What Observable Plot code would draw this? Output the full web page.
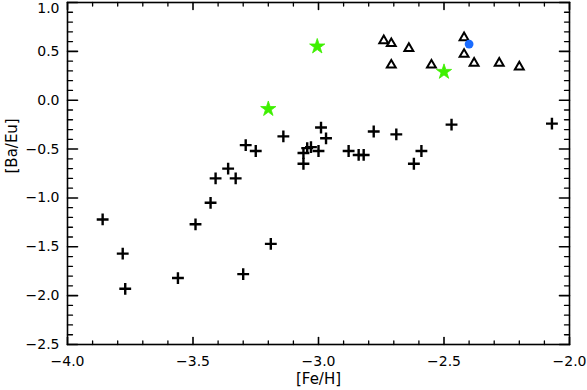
<!DOCTYPE html>
<html>
<head>
<meta charset="utf-8">
<script src="https://cdn.jsdelivr.net/npm/d3@7"></script>
<script src="https://cdn.jsdelivr.net/npm/@observablehq/plot@0.6"></script>
<style>
  body { margin: 0; background: #fff; }
  #chart { position: relative; width: 587px; height: 390px; }
</style>
</head>
<body>
<div id="chart"></div>
<script>
// Crosses (black "+")
const crossFe = [-3.86, -3.78, -3.77, -3.56, -3.49, -3.43, -3.41, -3.36, -3.33, -3.29,
                 -3.25, -3.30, -3.19, -3.14, -3.06, -3.06, -3.045, -3.03, -3.00, -2.99,
                 -2.97, -2.88, -2.84, -2.82, -2.78, -2.69, -2.62, -2.59, -2.47, -2.07];
const crossBaEu = [-1.22, -1.57, -1.93, -1.82, -1.27, -1.05, -0.80, -0.70, -0.80, -0.46,
                   -0.52, -1.78, -1.47, -0.37, -0.54, -0.65, -0.49, -0.48, -0.52, -0.28,
                   -0.39, -0.52, -0.56, -0.56, -0.32, -0.35, -0.65, -0.52, -0.25, -0.24];
// Open triangles
const triFe = [-2.74, -2.71, -2.64, -2.71, -2.55, -2.42, -2.42, -2.38, -2.28, -2.20];
const triBaEu = [0.61, 0.58, 0.53, 0.36, 0.36, 0.64, 0.47, 0.38, 0.38, 0.34];
// Green stars
const starFe = [-3.005, -3.20, -2.50];
const starBaEu = [0.55, -0.09, 0.29];
// Blue dot
const dotFe = [-2.40];
const dotBaEu = [0.575];

// Axis ticks
const xMajor = [-4.0, -3.5, -3.0, -2.5, -2.0];
const xMinor = [-3.9, -3.8, -3.7, -3.6, -3.4, -3.3, -3.2, -3.1, -2.9, -2.8, -2.7, -2.6, -2.4, -2.3, -2.2, -2.1];
const yMajor = [-2.5, -2.0, -1.5, -1.0, -0.5, 0.0, 0.5, 1.0];
const yMinor = [-2.4, -2.3, -2.2, -2.1, -1.9, -1.8, -1.7, -1.6, -1.4, -1.3, -1.2, -1.1,
                -0.9, -0.8, -0.7, -0.6, -0.4, -0.3, -0.2, -0.1, 0.1, 0.2, 0.3, 0.4, 0.6, 0.7, 0.8, 0.9];
const xLabel = "[Fe/H]";
const yLabel = "[Ba/Eu]";

const toPts = (xs, ys) => xs.map((x, i) => ({x, y: ys[i]}));
const crosses = toPts(crossFe, crossBaEu);
const tris = toPts(triFe, triBaEu);
const stars = toPts(starFe, starBaEu);
const dots = toPts(dotFe, dotBaEu);

const fmt = d => (d < 0 ? "\u2212" : "") + Math.abs(d).toFixed(1);
const line = {draw(ctx, l) { ctx.moveTo(0, 0); ctx.lineTo(0, -l); }};

// inward tick helper: vectors anchored at the frame edge
const xTicks = (vals, edge, len, sw) => Plot.vector(vals, {
  x: d => d, frameAnchor: edge, length: len, rotate: edge === "bottom" ? 0 : 180,
  anchor: "start", shape: line, stroke: "black", strokeWidth: sw
});
const yTicks = (vals, edge, len, sw) => Plot.vector(vals, {
  y: d => d, frameAnchor: edge, length: len, rotate: edge === "left" ? 90 : -90,
  anchor: "start", shape: line, stroke: "black", strokeWidth: sw
});

const yTop = yMajor.filter(d => d === 1.0);
const yRest = yMajor.filter(d => d !== 1.0);

const chart = Plot.plot({
  width: 587,
  height: 390,
  marginLeft: 67,
  marginRight: 18,
  marginTop: 2,
  marginBottom: 46,
  style: {fontFamily: "DejaVu Sans", fontSize: "14px", color: "black", background: "white"},
  x: {domain: [-4, -2], axis: null},
  y: {domain: [-2.5, 1.0], axis: null},
  marks: [
    xTicks(xMinor, "bottom", 3.5, 1.3),
    xTicks(xMinor, "top", 3.5, 1.3),
    yTicks(yMinor, "left", 5, 1.3),
    yTicks(yMinor, "right", 5, 1.3),
    xTicks(xMajor, "bottom", 7, 1.6),
    xTicks(xMajor, "top", 7, 1.6),
    yTicks(yMajor, "left", 10, 1.6),
    yTicks(yMajor, "right", 10, 1.6),
    // tick labels
    Plot.text(xMajor, {x: d => d, frameAnchor: "bottom", dy: 21, text: fmt, fontSize: 14, fill: "black"}),
    Plot.text(yRest, {y: d => d, frameAnchor: "left", dx: -8, textAnchor: "end", text: fmt, fontSize: 14, fill: "black"}),
    Plot.text(yTop, {y: d => d, frameAnchor: "left", dx: -8, dy: 6, textAnchor: "end", text: fmt, fontSize: 14, fill: "black"}),
    // axis titles
    Plot.text([xLabel], {frameAnchor: "bottom", dy: 39, text: d => d, fontSize: 15, fill: "black"}),
    Plot.text([yLabel], {frameAnchor: "left", dx: -55, rotate: -90, text: d => d, fontSize: 15, fill: "black"}),
    Plot.frame({stroke: "black", strokeWidth: 1.6}),
    Plot.dot(crosses, {x: "x", y: "y", symbol: "plus", r: 3.9, stroke: "black", strokeWidth: 2.4}),
    Plot.dot(tris, {x: "x", y: "y", symbol: "triangle", r: 3.3, stroke: "black", strokeWidth: 2, fill: "none"}),
    Plot.dot(stars, {x: "x", y: "y", symbol: "star", r: 4.8, fill: "#3ef000", stroke: "#3ef000", strokeWidth: 0.8}),
    Plot.dot(dots, {x: "x", y: "y", r: 4.4, fill: "#1a6cff", stroke: "none"})
  ]
});
document.getElementById("chart").appendChild(chart);
</script>
</body>
</html>
